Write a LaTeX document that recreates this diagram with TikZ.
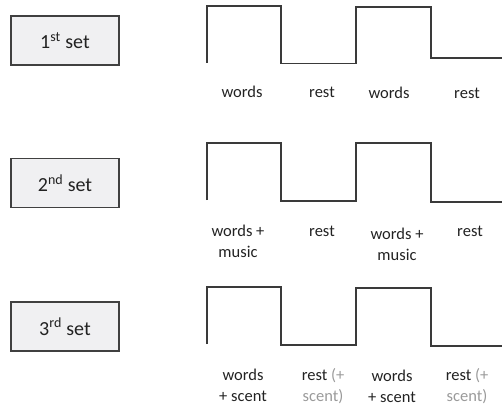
\documentclass[tikz,border=0pt]{standalone}
\usepackage{fontspec}
\setmainfont{Carlito}
\definecolor{boxfill}{HTML}{F0F0F2}
\definecolor{boxline}{HTML}{404040}
\definecolor{wave}{HTML}{3A3A3A}
\definecolor{lbl}{HTML}{222222}
\definecolor{faint}{HTML}{9A9A9A}
\begin{document}
\begin{tikzpicture}[x=1pt,y=-1pt,
  setbox/.style={draw=boxline,fill=boxfill,line width=1.3pt,minimum width=108pt,minimum height=49pt,inner sep=0pt,font=\fontsize{20}{24}\selectfont,text=lbl},
  wavestyle/.style={draw=wave,line width=1.1pt},
  lab/.style={anchor=base,align=center,inner sep=0pt,font=\fontsize{16.5}{21}\selectfont,text=lbl}]
\useasboundingbox (0,0) rectangle (502,409);
% boxes
\node[setbox] (s1) at (65,40.5) {1\textsuperscript{st} set};
\node[setbox] (s2) at (65,183) {2\textsuperscript{nd} set};
\node[setbox] (s3) at (65,326.5) {3\textsuperscript{rd} set};
% waveforms
\draw[wavestyle] (207,63) -- (207,6) -- (281,6) -- (281,63.5) -- (356,63.5) -- (356,7) -- (431,7) -- (431,58) -- (502,58);
\draw[wavestyle] (207,200) -- (207,143) -- (281,143) -- (281,201) -- (356,201) -- (356,143) -- (431,143) -- (431,202) -- (502,202);
\draw[wavestyle] (207,344) -- (207,287) -- (281,287) -- (281,345) -- (356,345) -- (356,288) -- (431,288) -- (431,346) -- (502,346);
% labels set 1
\node[lab] (a1) at (242,97) {words};
\node[lab] (a2) at (322,97) {rest};
\node[lab] (a3) at (389,99) {words};
\node[lab] (a4) at (467,98) {rest};
% labels set 2
\node[lab] (b1) at (238,257) {words +\\music};
\node[lab] (b2) at (322,236) {rest};
\node[lab] (b3) at (397,260) {words +\\music};
\node[lab] (b4) at (470,236) {rest};
% labels set 3
\node[lab] (c1) at (243,401) {words\\+ scent};
\node[lab] (c2) at (323,401) {rest \textcolor{faint}{(+}\\\textcolor{faint}{scent)}};
\node[lab] (c3) at (392,402) {words\\+ scent};
\node[lab] (c4) at (467,401) {rest \textcolor{faint}{(+}\\\textcolor{faint}{scent)}};
\end{tikzpicture}
\end{document}
